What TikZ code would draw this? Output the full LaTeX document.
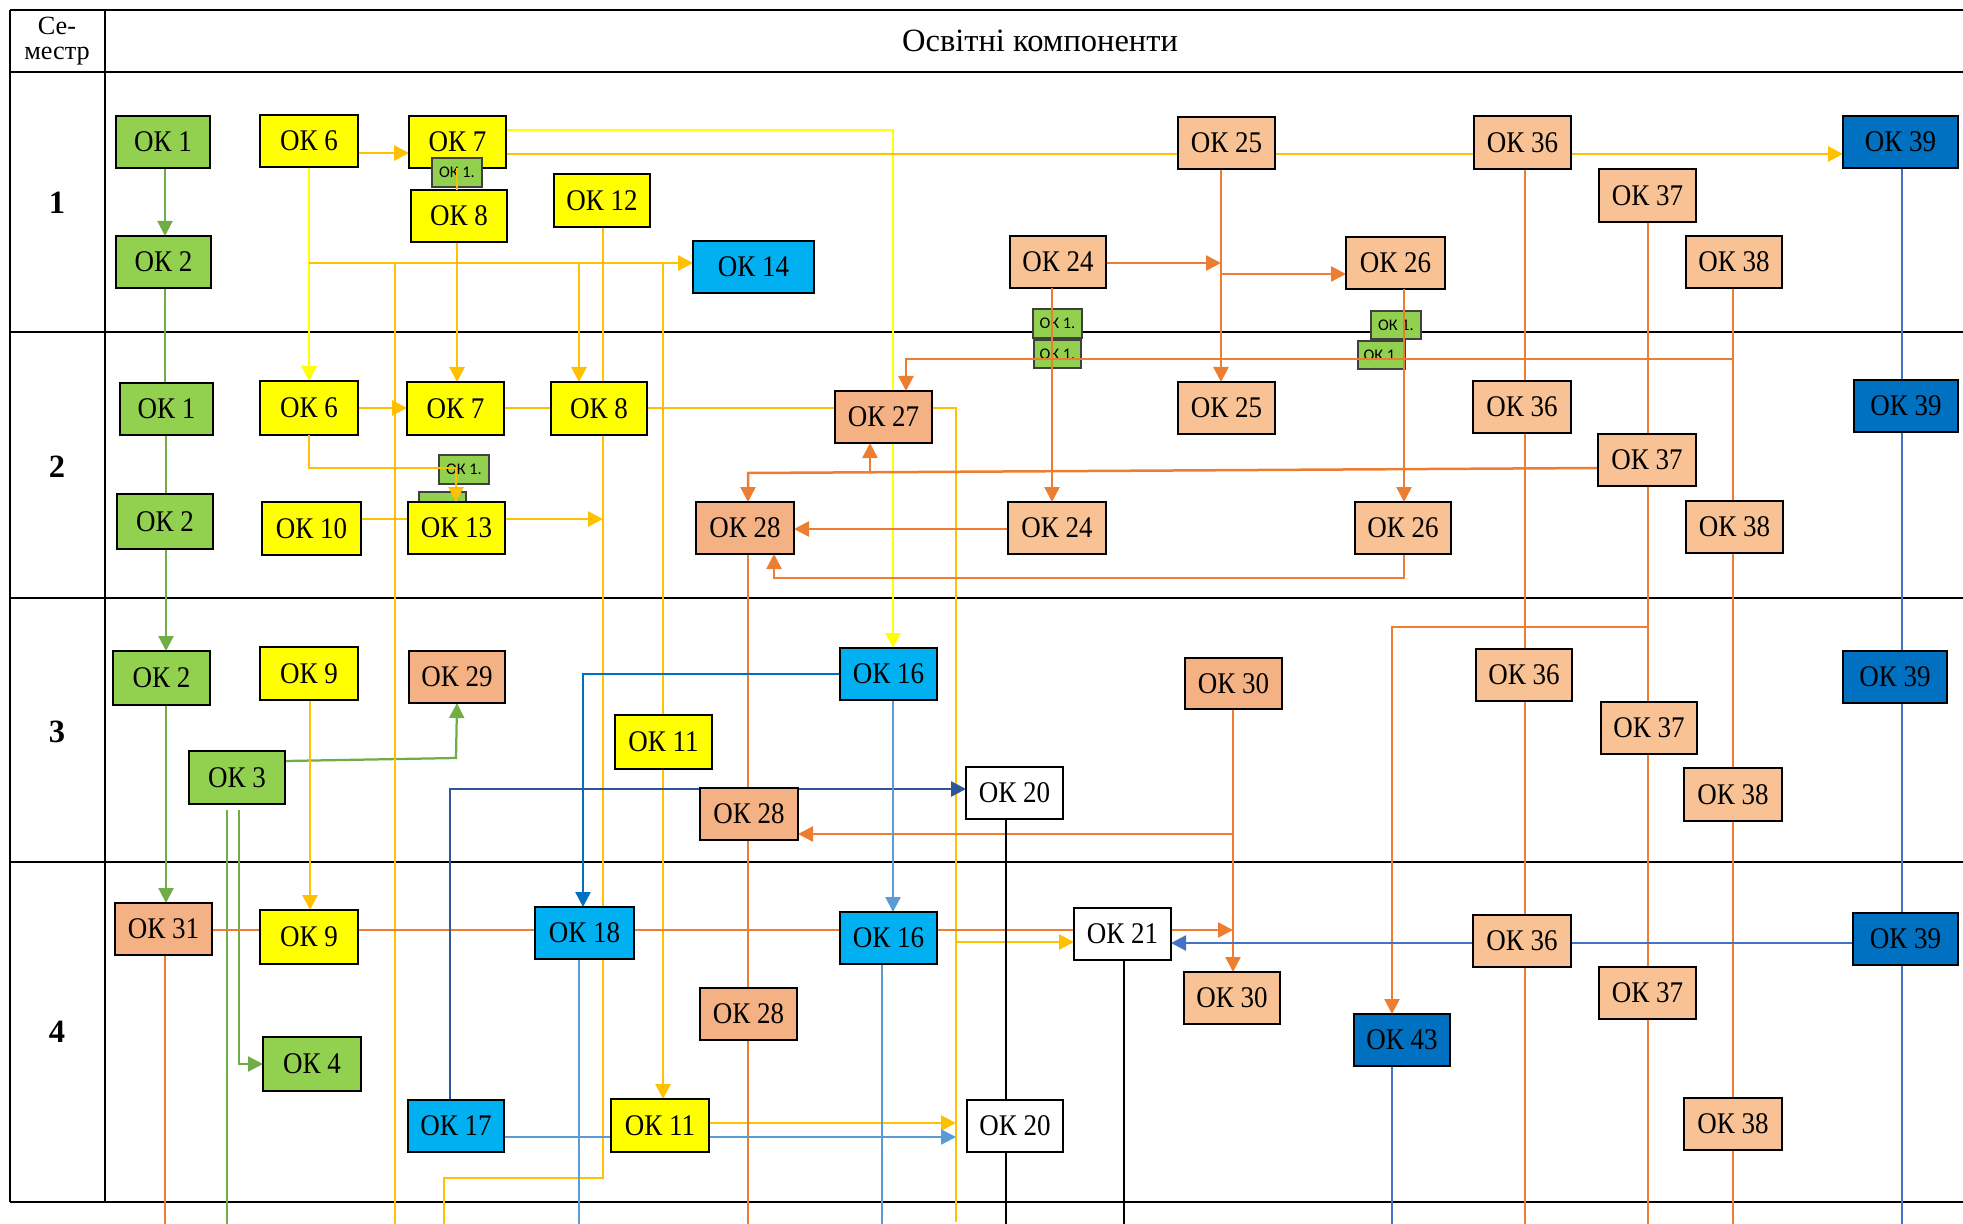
\documentclass[tikz,border=0pt]{standalone}
\usepackage{fontspec}
\setmainfont{Liberation Serif}
\newfontfamily\boxfont{Liberation Serif}[FakeStretch=0.9]
\newfontfamily\smallsans{Carlito}
\usetikzlibrary{arrows.meta}
\definecolor{cgreen}{HTML}{92D050}
\definecolor{cyellow}{HTML}{FFFF00}
\definecolor{cblue}{HTML}{00B0F0}
\definecolor{cdblue}{HTML}{0070C0}
\definecolor{cpeach}{HTML}{F8C294}
\definecolor{csalmon}{HTML}{F4B183}
\definecolor{lgreen}{HTML}{70AD47}
\definecolor{lgold}{HTML}{FFC000}
\definecolor{lorange}{HTML}{ED7D31}
\definecolor{llblue}{HTML}{5B9BD5}
\definecolor{lblue}{HTML}{4472C4}
\definecolor{ldblue}{HTML}{2F5597}
\pgfdeclarelayer{background}
\pgfdeclarelayer{foreground}
\pgfsetlayers{background,main,foreground}
\newcommand\bx[7]{%
  \pgfmathsetmacro\okW{(#4-#2)*0.4}%
  \pgfmathsetmacro\okH{(#5-#3)*0.4}%
  \node[#6, minimum width=\okW pt, minimum height=\okH pt] (#1) at ({(#2+#4)/2},{(#3+#5)/2}) {#7};}
\begin{document}
\begin{tikzpicture}[x=0.4pt,y=-0.4pt,
  ok/.style={draw=black,line width=1.1pt,inner sep=0pt,outer sep=0pt,font=\boxfont\fontsize{12}{14}\selectfont},
  gr/.style={ok,fill=cgreen}, ye/.style={ok,fill=cyellow}, bl/.style={ok,fill=cblue},
  db/.style={ok,fill=cdblue}, pe/.style={ok,fill=cpeach}, sa/.style={ok,fill=csalmon}, wh/.style={ok,fill=white},
  sb/.style={draw=black!75,fill=cgreen,line width=0.6pt,inner sep=0pt,outer sep=0pt,font=\smallsans\fontsize{6.5}{7}\selectfont},
  arr/.style={-{Triangle[length=6pt,width=6pt]}},
  cg/.style={draw=lgreen,line width=0.9pt},
  cy/.style={draw=cyellow,line width=1.1pt},
  co/.style={draw=lgold,line width=1.1pt},
  cor/.style={draw=lorange,line width=1pt},
  clb/.style={draw=llblue,line width=0.9pt},
  cb/.style={draw=cdblue,line width=1pt},
  cdb/.style={draw=ldblue,line width=1pt},
  cbl/.style={draw=lblue,line width=1pt},
  ck/.style={draw=black,line width=1pt},
  tline/.style={draw=black,line width=1.1pt},
  hdr/.style={font=\fontsize{13}{15}\selectfont},
  sem/.style={font=\fontsize{10.5}{12}\selectfont},
  rown/.style={font=\bfseries\fontsize{13}{15}\selectfont}
]
\useasboundingbox (0,0) rectangle (1963,1224);

% ---------- Row 1 ----------
\bx{a1}{116}{116}{210}{168}{gr}{ОК 1}
\bx{a6}{260}{115}{358}{167}{ye}{ОК 6}
\bx{a7}{409}{116}{506}{168}{ye}{ОК 7}
\bx{a8}{411}{190}{507}{242}{ye}{ОК 8}
\bx{a12}{554}{174}{650}{227}{ye}{ОК 12}
\bx{a2}{116}{236}{211}{288}{gr}{ОК 2}
\bx{a14}{693}{241}{814}{293}{bl}{ОК 14}
\bx{a24}{1010}{236}{1106}{288}{pe}{ОК 24}
\bx{a25}{1178}{117}{1275}{169}{pe}{ОК 25}
\bx{a26}{1346}{237}{1445}{289}{pe}{ОК 26}
\bx{a36}{1474}{116}{1571}{169}{pe}{ОК 36}
\bx{a37}{1599}{169}{1696}{222}{pe}{ОК 37}
\bx{a38}{1686}{236}{1782}{288}{pe}{ОК 38}
\bx{a39}{1843}{116}{1958}{168}{db}{ОК 39}
% ---------- Row 2 ----------
\bx{b1}{120}{383}{213}{435}{gr}{ОК 1}
\bx{b2}{117}{494}{213}{549}{gr}{ОК 2}
\bx{b6}{260}{381}{358}{435}{ye}{ОК 6}
\bx{b7}{407}{382}{504}{435}{ye}{ОК 7}
\bx{b8}{551}{382}{647}{435}{ye}{ОК 8}
\bx{b10}{262}{502}{361}{555}{ye}{ОК 10}
\bx{b13}{408}{502}{505}{554}{ye}{ОК 13}
\bx{b27}{835}{391}{932}{443}{sa}{ОК 27}
\bx{b28}{696}{502}{794}{554}{sa}{ОК 28}
\bx{b24}{1008}{502}{1106}{554}{pe}{ОК 24}
\bx{b25}{1178}{382}{1275}{434}{pe}{ОК 25}
\bx{b26}{1355}{502}{1451}{554}{pe}{ОК 26}
\bx{b36}{1473}{381}{1571}{433}{pe}{ОК 36}
\bx{b37}{1598}{434}{1696}{486}{pe}{ОК 37}
\bx{b38}{1686}{501}{1783}{553}{pe}{ОК 38}
\bx{b39}{1854}{380}{1958}{432}{db}{ОК 39}
% ---------- Row 3 ----------
\bx{c2}{113}{651}{210}{705}{gr}{ОК 2}
\bx{c9}{260}{647}{358}{700}{ye}{ОК 9}
\bx{c29}{409}{651}{505}{703}{sa}{ОК 29}
\bx{c3}{189}{751}{285}{804}{gr}{ОК 3}
\bx{c11}{615}{715}{712}{769}{ye}{ОК 11}
\bx{c16}{840}{648}{937}{700}{bl}{ОК 16}
\bx{c20}{966}{767}{1063}{819}{wh}{ОК 20}
\bx{c28}{700}{788}{798}{840}{sa}{ОК 28}
\bx{c30}{1185}{658}{1282}{709}{sa}{ОК 30}
\bx{c36}{1476}{649}{1572}{701}{pe}{ОК 36}
\bx{c37}{1601}{702}{1697}{754}{pe}{ОК 37}
\bx{c38}{1684}{768}{1782}{821}{pe}{ОК 38}
\bx{c39}{1843}{651}{1947}{703}{db}{ОК 39}
% ---------- Row 4 ----------
\bx{d31}{115}{903}{212}{955}{sa}{ОК 31}
\bx{d9}{260}{910}{358}{964}{ye}{ОК 9}
\bx{d18}{535}{907}{634}{959}{bl}{ОК 18}
\bx{d4}{263}{1037}{361}{1091}{gr}{ОК 4}
\bx{d17}{408}{1100}{504}{1152}{bl}{ОК 17}
\bx{d11}{611}{1099}{709}{1152}{ye}{ОК 11}
\bx{d16}{840}{912}{937}{964}{bl}{ОК 16}
\bx{d28}{700}{988}{797}{1040}{sa}{ОК 28}
\bx{d21}{1074}{908}{1171}{960}{wh}{ОК 21}
\bx{d30}{1184}{972}{1280}{1024}{pe}{ОК 30}
\bx{d20}{967}{1100}{1063}{1152}{wh}{ОК 20}
\bx{d43}{1354}{1014}{1450}{1066}{db}{ОК 43}
\bx{d36}{1473}{915}{1571}{967}{pe}{ОК 36}
\bx{d37}{1599}{967}{1696}{1019}{pe}{ОК 37}
\bx{d38}{1684}{1098}{1782}{1150}{pe}{ОК 38}
\bx{d39}{1853}{913}{1958}{965}{db}{ОК 39}

% ---------- table text ----------
\node[sem] (hA) at (57,26) {Се-};
\node[sem] (hB) at (57,56) {местр};
\node[hdr] (hC) at (1040,41) {Освітні компоненти};
\node[rown] (r1) at (57,203) {1};
\node[rown] (r2) at (57,467) {2};
\node[rown] (r3) at (57,732) {3};
\node[rown] (r4) at (57,1032) {4};

% ---------- small green boxes (over big boxes) ----------
\begin{pgfonlayer}{foreground}
\bx{s1}{432}{158}{482}{187}{sb}{ОК 1.}
\bx{s2}{1033}{309}{1082}{338}{sb}{ОК 1.}
\bx{s3}{1034}{340}{1081}{368}{sb}{ОК 1.}
\bx{s4}{1371}{311}{1421}{339}{sb}{ОК 1.}
\bx{s5}{1358}{341}{1405}{369}{sb}{ОК 1.}
\bx{s6}{439}{455}{489}{484}{sb}{ОК 1.}
% lines passing over the small boxes
\draw[co] (a7.south -| 457,0) -- (a8.north -| 457,0);
\draw[cor,arr] (a24.south -| 1052,0) -- (b24.north -| 1052,0);
\draw[cor,arr] (a26.south -| 1404,0) -- (b26.north -| 1404,0);
\draw[cor,arr] (a38.south |- 0,359) -| (b27.north -| 906,0);
\draw[co,arr] (b6.south -| 309,0) |- (456,468) -- (b13.north -| 456,0);
\end{pgfonlayer}

\begin{pgfonlayer}{background}
% table
\draw[tline] (10,10) -- (1963,10);
\draw[tline] (10,72) -- (1963,72);
\draw[tline] (10,332) -- (1963,332);
\draw[tline] (10,598) -- (1963,598);
\draw[tline] (10,862) -- (1963,862);
\draw[tline] (10,1202) -- (1963,1202);
\draw[tline] (10,10) -- (10,1202);
\draw[tline] (105,10) -- (105,1202);
\bx{s7}{419}{492}{466}{514}{sb}{}

% green
\draw[cg,arr] (a1.south -| 165,0) -- (a2.north -| 165,0);
\draw[cg] (a2.south -| 165,0) -- (b1.north -| 165,0);
\draw[cg] (b1.south -| 166,0) -- (b2.north -| 166,0);
\draw[cg,arr] (b2.south -| 166,0) -- (c2.north -| 166,0);
\draw[cg,arr] (c2.south -| 166,0) -- (d31.north -| 166,0);
\draw[cg,arr] (c3.east |- 0,761) -- (456,758) -- (c29.south);
\draw[cg] (227,810) -- (227,1224);
\draw[cg,arr] (239,810) |- (d4.west);

% yellow
\draw[cy,arr] (a6.south -| 309,0) -- (b6.north -| 309,0);
\draw[cy,arr] (a7.east |- 0,130) -| (c16.north -| 893,0);

% gold
\draw[co,arr] (a6.east |- 0,153) -- (a7.west |- 0,153);
\draw[co,arr] (a7.east |- 0,154) -- (a39.west |- 0,154);
\draw[co,arr] (309,263) -- (a14.west |- 0,263);
\draw[co] (395,263) -- (395,1224);
\draw[co,arr] (579,263) -- (b8.north -| 579,0);
\draw[co,arr] (663,263) -- (d11.north -| 663,0);
\draw[co] (a12.south -| 603,0) -- (603,1178) -- (444,1178) -- (444,1224);
\draw[co,arr] (a8.south -| 457,0) -- (b7.north -| 457,0);
\draw[co,arr] (b6.east |- 0,408) -- (b7.west |- 0,408);
\draw[co] (b7.east |- 0,408) -- (b8.west |- 0,408);
\draw[co] (b8.east |- 0,408) -- (b27.west |- 0,408);
\draw[co] (b27.east |- 0,408) -| (956,1222);
\draw[co] (b10.east |- 0,519) -- (b13.west |- 0,519);
\draw[co,arr] (b13.east |- 0,519) -- (603,519);
\draw[co,arr] (c9.south -| 310,0) -- (d9.north -| 310,0);
\draw[co,arr] (956,942) -- (d21.west |- 0,942);
\draw[co,arr] (d11.east |- 0,1123) -- (956,1123);

% orange
\draw[cor,arr] (a24.east |- 0,263) -- (1221,263);
\draw[cor,arr] (a25.south -| 1221,0) -- (b25.north -| 1221,0);
\draw[cor,arr] (1221,274) -- (a26.west |- 0,274);
\draw[cor] (a36.south -| 1525,0) -- (1525,1224);
\draw[cor] (a37.south -| 1648,0) -- (1648,1224);
\draw[cor] (a38.south -| 1733,0) -- (1733,1224);
\draw[cor,arr] (b37.west |- 0,468) -- (748,473) -- (b28.north -| 748,0);
\draw[cor,arr] (870,472.3) -- (b27.south -| 870,0);
\draw[cor,arr] (b24.west |- 0,529) -- (b28.east |- 0,529);
\draw[cor,arr] (b26.south -| 1404,0) |- (774,578) -- (b28.south -| 774,0);
\draw[cor] (b28.south -| 748,0) -- (c28.north -| 748,0);
\draw[cor] (c28.south -| 748,0) -- (748,1224);
\draw[cor,arr] (c30.south -| 1233,0) -- (d30.north -| 1233,0);
\draw[cor,arr] (1233,834) -- (c28.east |- 0,834);
\draw[cor,arr] (1648,627) -| (d43.north -| 1392,0);
\draw[cor] (d31.east |- 0,930) -- (d21.west |- 0,930);
\draw[cor,arr] (d21.east |- 0,930) -- (1233,930);
\draw[cor] (d31.south -| 165,0) -- (165,1224);

% blues
\draw[cb,arr] (c16.west |- 0,674) -| (d18.north -| 583,0);
\draw[cdb,arr] (d17.north -| 450,0) |- (c20.west |- 0,789);
\draw[clb,arr] (c16.south -| 893,0) -- (d16.north -| 893,0);
\draw[clb,arr] (d17.east |- 0,1137) -- (956,1137);
\draw[clb] (d18.south -| 579,0) -- (579,1224);
\draw[clb] (d16.south -| 882,0) -- (882,1224);
\draw[cbl] (a39.south -| 1902,0) -- (1902,1224);
\draw[cbl,arr] (d39.west |- 0,943) -- (d21.east |- 0,943);
\draw[cbl] (d43.south -| 1392,0) -- (1392,1224);

% black
\draw[ck] (c20.south -| 1006,0) -- (d20.north -| 1006,0);
\draw[ck] (d20.south -| 1006,0) -- (1006,1224);
\draw[ck] (d21.south -| 1124,0) -- (1124,1224);
\end{pgfonlayer}
\end{tikzpicture}
\end{document}
